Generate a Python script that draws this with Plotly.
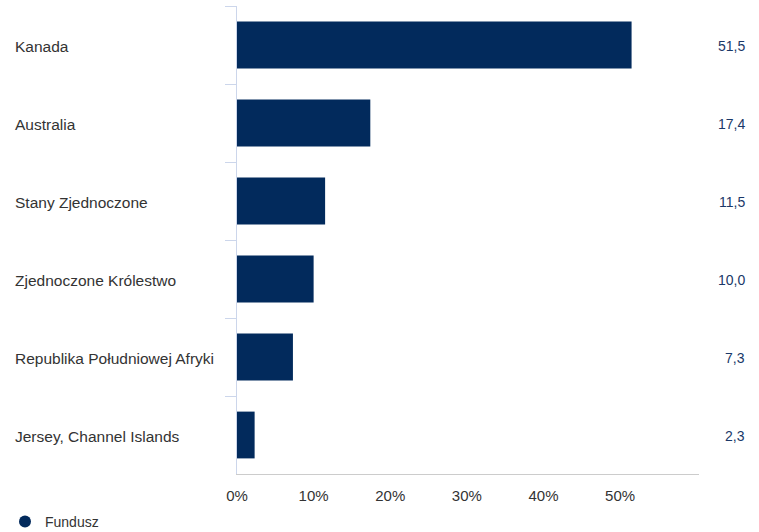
import plotly.graph_objects as go

categories = ["Kanada", "Australia", "Stany Zjednoczone", "Zjednoczone Królestwo",
              "Republika Południowej Afryki", "Jersey, Channel Islands"]
values = [51.5, 17.4, 11.5, 10.0, 7.3, 2.3]
series_name = "Fundusz"
tick_vals = [0, 10, 20, 30, 40, 50]
tick_text = ["0%", "10%", "20%", "30%", "40%", "50%"]

BAR = "#022a5c"
W, H = 759, 532
L, R, T, B = 237, 60, 6, 58
pw = W - L - R
ph = H - T - B

fig = go.Figure()
fig.add_trace(go.Bar(x=values, y=categories, orientation="h", marker=dict(color=BAR, line=dict(width=0)),
                     width=0.6, showlegend=False, hoverinfo="x+y"))
fig.add_trace(go.Scatter(x=[None], y=[None], mode="markers", name=series_name,
                         marker=dict(symbol="circle", size=15, color=BAR), showlegend=True))

ann = []
for c, v in zip(categories, values):
    ann.append(dict(xref="paper", yref="y", x=(13 - L) / pw, y=c, text=c, showarrow=False,
                    xanchor="left", yanchor="middle", yshift=-1, font=dict(size=15.5, color="#333333")))
    ann.append(dict(xref="paper", yref="y", x=(747 - L) / pw, y=c, text=f"{v:.1f}".replace(".", ","),
                    showarrow=False, xanchor="right", yanchor="middle", yshift=-1,
                    font=dict(size=14, color="#1a3868")))

fig.update_layout(
    width=W, height=H, margin=dict(l=L, r=R, t=T, b=B),
    paper_bgcolor="white", plot_bgcolor="white",
    font=dict(family="Liberation Sans, Arial, sans-serif", size=14, color="#333333"),
    xaxis=dict(range=[0, 60.3], tickvals=tick_vals, ticktext=tick_text, showgrid=False, zeroline=False,
               showline=True, linecolor="#cccccc", linewidth=1, ticks="", ticklabelstandoff=8,
               tickfont=dict(size=15, color="#333333"), fixedrange=True),
    yaxis=dict(categoryorder="array", categoryarray=categories, autorange="reversed",
               showticklabels=False, showgrid=False, zeroline=False, showline=True, linecolor="#ccd6eb",
               linewidth=1, ticks="outside", tickson="boundaries", ticklen=11, tickcolor="#ccd6eb",
               fixedrange=True),
    bargap=0.4,
    annotations=ann,
    legend=dict(xref="container", x=5 / W, xanchor="left", yref="container", y=(H - 522) / H,
                yanchor="middle", font=dict(size=14, color="#333333"), bgcolor="rgba(0,0,0,0)",
                itemsizing="constant", itemwidth=30),
    showlegend=True,
)
fig.write_html("out.html", config={"displayModeBar": False},
               post_script="document.body.style.margin='0';")
